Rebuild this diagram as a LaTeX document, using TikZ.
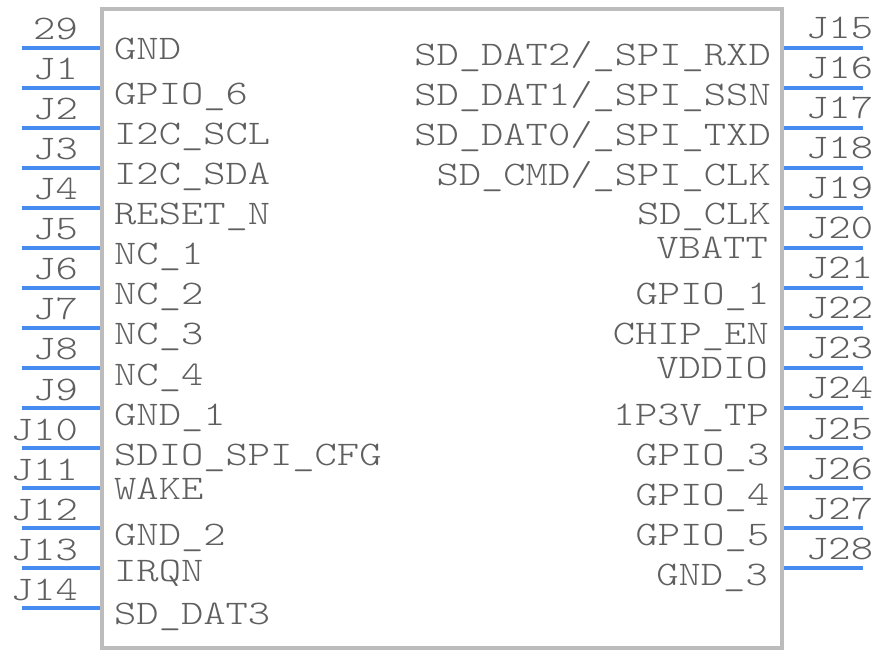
\documentclass[tikz,border=0pt]{standalone}
\usepackage{fontspec}
\newfontfamily\pinfont[FakeStretch=1.23]{Latin Modern Mono Light}
\definecolor{boxgray}{RGB}{188,188,188}
\definecolor{pinblue}{RGB}{70,140,240}
\definecolor{textgray}{RGB}{95,95,95}
\tikzset{
  pinline/.style={line width=4pt,pinblue},
  chipbox/.style={draw=boxgray,line width=4.4pt,fill=white,minimum width=680pt,minimum height=639pt,inner sep=0pt},
  lab/.style={text=textgray,inner sep=0pt,font=\pinfont\fontsize{34.5}{36}\selectfont},
  labl/.style={lab,anchor=base west},
  labr/.style={lab,anchor=base east},
}
\begin{document}
\begin{tikzpicture}[x=1pt,y=-1pt]
        \useasboundingbox (0,0) rectangle (884,652);
        \node[chipbox] (chip) at (442,328.5) {};
        % pins on the left
        \coordinate (a29) at (22,48); \draw[pinline] (a29) -- (a29 -| chip.west);
        \coordinate (a1) at (22,88); \draw[pinline] (a1) -- (a1 -| chip.west);
        \coordinate (a2) at (22,128); \draw[pinline] (a2) -- (a2 -| chip.west);
        \coordinate (a3) at (22,168); \draw[pinline] (a3) -- (a3 -| chip.west);
        \coordinate (a4) at (22,208); \draw[pinline] (a4) -- (a4 -| chip.west);
        \coordinate (a5) at (22,248); \draw[pinline] (a5) -- (a5 -| chip.west);
        \coordinate (a6) at (22,288); \draw[pinline] (a6) -- (a6 -| chip.west);
        \coordinate (a7) at (22,328); \draw[pinline] (a7) -- (a7 -| chip.west);
        \coordinate (a8) at (22,368); \draw[pinline] (a8) -- (a8 -| chip.west);
        \coordinate (a9) at (22,408); \draw[pinline] (a9) -- (a9 -| chip.west);
        \coordinate (a10) at (22,448); \draw[pinline] (a10) -- (a10 -| chip.west);
        \coordinate (a11) at (22,488); \draw[pinline] (a11) -- (a11 -| chip.west);
        \coordinate (a12) at (22,528); \draw[pinline] (a12) -- (a12 -| chip.west);
        \coordinate (a13) at (22,568); \draw[pinline] (a13) -- (a13 -| chip.west);
        \coordinate (a14) at (22,608); \draw[pinline] (a14) -- (a14 -| chip.west);
        % pins on the right
        \coordinate (a15) at (863,48); \draw[pinline] (a15) -- (a15 -| chip.east);
        \coordinate (a16) at (863,88); \draw[pinline] (a16) -- (a16 -| chip.east);
        \coordinate (a17) at (863,128); \draw[pinline] (a17) -- (a17 -| chip.east);
        \coordinate (a18) at (863,168); \draw[pinline] (a18) -- (a18 -| chip.east);
        \coordinate (a19) at (863,208); \draw[pinline] (a19) -- (a19 -| chip.east);
        \coordinate (a20) at (863,248); \draw[pinline] (a20) -- (a20 -| chip.east);
        \coordinate (a21) at (863,288); \draw[pinline] (a21) -- (a21 -| chip.east);
        \coordinate (a22) at (863,328); \draw[pinline] (a22) -- (a22 -| chip.east);
        \coordinate (a23) at (863,368); \draw[pinline] (a23) -- (a23 -| chip.east);
        \coordinate (a24) at (863,408); \draw[pinline] (a24) -- (a24 -| chip.east);
        \coordinate (a25) at (863,448); \draw[pinline] (a25) -- (a25 -| chip.east);
        \coordinate (a26) at (863,488); \draw[pinline] (a26) -- (a26 -| chip.east);
        \coordinate (a27) at (863,528); \draw[pinline] (a27) -- (a27 -| chip.east);
        \coordinate (a28) at (863,568); \draw[pinline] (a28) -- (a28 -| chip.east);
        % pin numbers
        \node[labr] (n29) at (78,40) {29};
        \node[labr] (n1) at (78,80) {J1};
        \node[labr] (n2) at (78,120) {J2};
        \node[labr] (n3) at (78,160) {J3};
        \node[labr] (n4) at (78,200) {J4};
        \node[labr] (n5) at (78,240) {J5};
        \node[labr] (n6) at (78,280) {J6};
        \node[labr] (n7) at (78,320) {J7};
        \node[labr] (n8) at (78,360) {J8};
        \node[labr] (n9) at (78,400) {J9};
        \node[labr] (n10) at (78,440) {J10};
        \node[labr] (n11) at (78,480) {J11};
        \node[labr] (n12) at (78,520) {J12};
        \node[labr] (n13) at (78,560) {J13};
        \node[labr] (n14) at (78,600) {J14};
        \node[labl] (n15) at (806,39) {J15};
        \node[labl] (n16) at (806,79) {J16};
        \node[labl] (n17) at (806,119) {J17};
        \node[labl] (n18) at (806,159) {J18};
        \node[labl] (n19) at (806,199) {J19};
        \node[labl] (n20) at (806,239) {J20};
        \node[labl] (n21) at (806,279) {J21};
        \node[labl] (n22) at (806,319) {J22};
        \node[labl] (n23) at (806,359) {J23};
        \node[labl] (n24) at (806,399) {J24};
        \node[labl] (n25) at (806,439) {J25};
        \node[labl] (n26) at (806,479) {J26};
        \node[labl] (n27) at (806,519) {J27};
        \node[labl] (n28) at (806,559) {J28};
        % names inside, left
        \node[labl] (gnd) at (114,60) {GND};
        \node[labl] (gpiosix) at (114,105) {GPIO\_6};
        \node[labl] (scl) at (114,145) {I2C\_SCL};
        \node[labl] (sda) at (114,185) {I2C\_SDA};
        \node[labl] (reset) at (114,225) {RESET\_N};
        \node[labl] (ncone) at (114,265) {NC\_1};
        \node[labl] (nctwo) at (114,305) {NC\_2};
        \node[labl] (ncthree) at (114,345) {NC\_3};
        \node[labl] (ncfour) at (114,385) {NC\_4};
        \node[labl] (gndone) at (114,425) {GND\_1};
        \node[labl] (cfg) at (114,465) {SDIO\_SPI\_CFG};
        \node[labl] (wake) at (114,499) {WAKE};
        \node[labl] (gndtwo) at (114,545) {GND\_2};
        \node[labl] (irqn) at (114,581) {IRQN};
        \node[labl] (datthree) at (114,624) {SD\_DAT3};
        % names inside, right
        \node[labr] (rxd) at (771,66) {SD\_DAT2/\_SPI\_RXD};
        \node[labr] (ssn) at (771,106) {SD\_DAT1/\_SPI\_SSN};
        \node[labr] (txd) at (771,146) {SD\_DAT0/\_SPI\_TXD};
        \node[labr] (clk) at (771,186) {SD\_CMD/\_SPI\_CLK};
        \node[labr] (sdclk) at (771,225) {SD\_CLK};
        \node[labr] (vbatt) at (768,259) {VBATT};
        \node[labr] (gpioone) at (769.5,305) {GPIO\_1};
        \node[labr] (chipen) at (769,345) {CHIP\_EN};
        \node[labr] (vddio) at (768,379) {VDDIO};
        \node[labr] (tp) at (769,425) {1P3V\_TP};
        \node[labr] (gpiothree) at (769.5,465) {GPIO\_3};
        \node[labr] (gpiofour) at (769.5,505) {GPIO\_4};
        \node[labr] (gpiofive) at (769.5,545) {GPIO\_5};
        \node[labr] (gndthree) at (768,585) {GND\_3};
      \end{tikzpicture}
\end{document}
